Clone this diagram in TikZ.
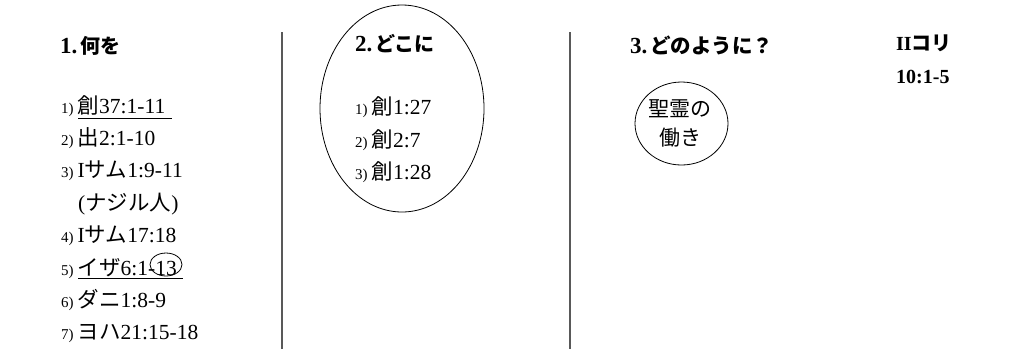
\documentclass[tikz,border=0pt]{standalone}
\usepackage{fontspec}
\setmainfont{Liberation Serif}
\newfontfamily\cjk{Noto Sans CJK JP}
\newcommand\J[1]{{\cjk #1}}
\newcommand\sn[1]{{\fontsize{15}{15}\selectfont #1}\hspace{4pt}}
\begin{document}
\begin{tikzpicture}[x=1pt,y=-1pt,
  txt/.style={anchor=base west,inner sep=0pt,font=\fontsize{21.5}{24}\selectfont},
  ttl/.style={anchor=base west,inner sep=0pt,font=\fontsize{23}{24}\selectfont\bfseries},
  sep/.style={draw=black!65,line width=1.3pt},
  ring/.style={draw=black,line width=0.8pt}]
\useasboundingbox (0,0) rectangle (1032,360);
% separators
\coordinate (s1a) at (282,32); \coordinate (s1b) at (282,349);
\coordinate (s2a) at (570,32); \coordinate (s2b) at (570,349);
\draw[sep] (s1a) -- (s1b);
\draw[sep] (s2a) -- (s2b);
% column 1
\node[ttl] (t1) at (60,53) {1.\hspace{3pt}{\cjk\bfseries\fontsize{20}{20}\selectfont 何を}};
\node[txt] (a1) at (61,113) {\sn{1)}\J{創}37:1-11};
\node[txt] (a2) at (61,145.4) {\sn{2)}\J{出}2:1-10};
\node[txt] (a3) at (61,177.8) {\sn{3)}I\J{サム}1:9-11};
\node[txt] (a3b) at (78,210.2) {(\J{ナジル人})};
\node[txt] (a4) at (61,242.6) {\sn{4)}I\J{サム}17:18};
\node[txt] (a5) at (61,275) {\sn{5)}\J{イザ}6:1-13};
\node[txt] (a6) at (61,307.4) {\sn{6)}\J{ダニ}1:8-9};
\node[txt] (a7) at (61,339.8) {\sn{7)}\J{ヨハ}21:15-18};
\coordinate (u1a) at (78,118.3); \coordinate (u1b) at (172,118.3);
\coordinate (u5a) at (78,278.5); \coordinate (u5b) at (183,278.5);
\draw[line width=0.8pt] (u1a) -- (u1b);
\draw[line width=0.8pt] (u5a) -- (u5b);
\draw[ring] (166,264.5) ellipse [x radius=16, y radius=11.5];
% column 2
\draw[ring] (402,108.5) ellipse [x radius=82, y radius=103.5];
\node[ttl] (t2) at (355,51) {2.\hspace{3pt}{\cjk\bfseries\fontsize{20}{20}\selectfont どこに}};
\node[txt] (b1) at (355,114.5) {\sn{1)}\J{創}1:27};
\node[txt] (b2) at (355,147) {\sn{2)}\J{創}2:7};
\node[txt] (b3) at (355,179.5) {\sn{3)}\J{創}1:28};
% column 3
\node[ttl] (t3) at (630,53) {3.\hspace{3pt}{\cjk\bfseries\fontsize{20.5}{20}\selectfont どのように？}};
\draw[ring] (681.5,123.5) ellipse [x radius=46.5, y radius=41.5];
\node[anchor=base,inner sep=0pt,font=\cjk\fontsize{21}{24}\selectfont] (c1) at (680,116) {聖霊の};
\node[anchor=base,inner sep=0pt,font=\cjk\fontsize{21}{24}\selectfont] (c2) at (680,145) {働き};
% reference
\node[anchor=base west,inner sep=0pt,font=\fontsize{20}{24}\selectfont\bfseries] (r1) at (896,50) {II{\cjk\bfseries コリ}};
\node[anchor=base west,inner sep=0pt,font=\fontsize{20}{24}\selectfont\bfseries] (r2) at (896,83) {10:1-5};
\end{tikzpicture}
\end{document}
